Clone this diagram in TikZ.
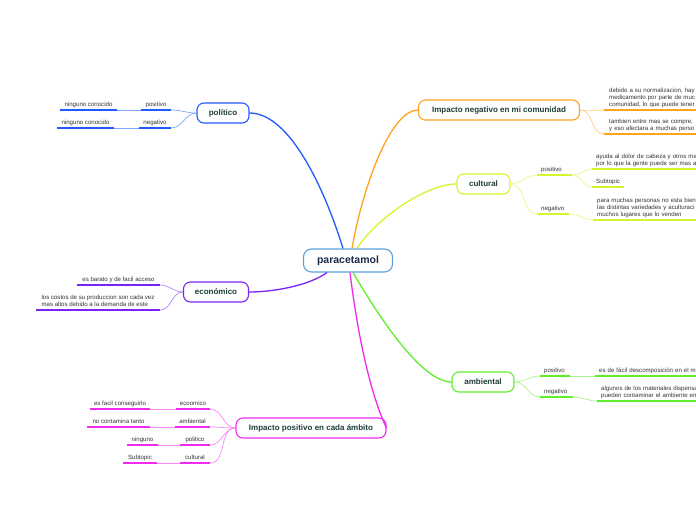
\documentclass[tikz,border=0pt]{standalone}
\usepackage{fontspec}
\setmainfont{Liberation Sans}
\usetikzlibrary{calc}
\definecolor{cblue}{HTML}{1F5BFF}
\definecolor{cpurple}{HTML}{7B22F5}
\definecolor{cmag}{HTML}{F02BF0}
\definecolor{corange}{HTML}{FFA41F}
\definecolor{cyel}{HTML}{D6F52A}
\definecolor{cgreen}{HTML}{5EF02C}
\definecolor{ccentral}{HTML}{5AA0DC}
\definecolor{brtext}{HTML}{1E3D3A}
\definecolor{ctext}{HTML}{1B2A4A}
\definecolor{ltext}{HTML}{333333}
\newcommand\leaffont{\fontsize{6.1pt}{7pt}\selectfont}
\newcommand\branchfont{\fontsize{8pt}{9.6pt}\selectfont\bfseries}
\newcommand\centralfont{\fontsize{10.5pt}{12.6pt}\selectfont\bfseries}
\tikzset{
  central/.style={draw=ccentral, line width=1.1pt, rounded corners=8pt, fill=white, text=ctext, font=\centralfont, minimum width=89pt, minimum height=23pt, inner sep=0pt},
  branch/.style={draw=#1, line width=1.1pt, rounded corners=7pt, fill=white, text=brtext, font=\branchfont, minimum height=20pt, inner sep=0pt},
  mainc/.style={draw=#1, line width=1.3pt},
  subc/.style={draw=#1!55!white, line width=0.7pt},
  uline/.style={draw=#1, line width=1.6pt},
  lf/.style={anchor=south, inner xsep=0pt, inner ysep=3.5pt, text depth=0pt, font=\leaffont, text=ltext,
    append after command={\pgfextra{\let\mylastnode\tikzlastnode}(\mylastnode.south west) edge[uline=#1] (\mylastnode.south east)}},
  rl/.style={lf=#1, anchor=south west, inner xsep=4pt, align=left},
}
\begin{document}
\begin{tikzpicture}[x=1pt,y=-1pt]
\useasboundingbox[fill=white] (0,0) rectangle (696,520);
\begin{scope}
\clip (0,0) rectangle (696,520);
% central and branches
\node[central] (c) at (348,260.5) {paracetamol};
\node[branch=cblue, minimum width=52pt] (pol) at (223,113) {político};
\node[branch=cpurple, minimum width=65pt] (eco) at (216,292) {económico};
\node[branch=cmag, minimum width=150pt] (ip) at (311,428) {Impacto positivo en cada ámbito};
\node[branch=corange, minimum width=161pt] (neg) at (499,110) {Impacto negativo en mi comunidad};
\node[branch=cyel, minimum width=53pt] (cul) at (483.5,184) {cultural};
\node[branch=cgreen, minimum width=62pt] (amb) at (483,382) {ambiental};
% politico leaves
\node[lf=cblue, minimum width=30pt] (pp) at (156,110) {positivo};
\node[lf=cblue, minimum width=57pt] (pp1) at (88.5,110) {ninguno conocido};
\node[lf=cblue, minimum width=32pt] (pn) at (155,128) {negativo};
\node[lf=cblue, minimum width=57pt] (pn1) at (85.5,128) {ninguno conocido};
% economico leaves
\node[lf=cpurple, minimum width=83pt] (e1) at (118.5,285) {es barato y de facil acceso};
\node[lf=cpurple, minimum width=124pt, align=left] (e2) at (98,310) {los costos de su produccion son cada vez\\mas altos debido a la demanda de este};
% impacto positivo leaves
\node[lf=cmag, minimum width=34pt] (i1) at (193,409) {ecoomico};
\node[lf=cmag, minimum width=60pt] (i1b) at (120,409) {es facil conseguirlo};
\node[lf=cmag, minimum width=35pt] (i2) at (192.5,427) {ambiental};
\node[lf=cmag, minimum width=63pt] (i2b) at (118.5,427) {no contamina tanto};
\node[lf=cmag, minimum width=30pt] (i3) at (195,445) {politico};
\node[lf=cmag, minimum width=31pt] (i3b) at (142.5,445) {ninguno};
\node[lf=cmag, minimum width=30pt] (i4) at (195,463) {cultural};
\node[lf=cmag, minimum width=34pt] (i4b) at (140,463) {Subtopic};
% impacto negativo leaves
\node[rl=corange, text width=140pt, inner xsep=5pt, text depth=14pt] (n1) at (604,110) {debido a su normalizacion, hay\\medicamento por parte de muc\\comunidad, lo que puede tener};
\node[rl=corange, text width=140pt, inner xsep=5pt, text depth=7pt] (n2) at (604,134) {tambien entre mas se compre,\\y eso afectara a muchas perso};
% cultural leaves
\node[rl=cyel, text width=27pt] (cp) at (537,175) {positivo};
\node[rl=cyel, text width=140pt, text depth=7pt] (cp1) at (592,169) {ayuda al dolor de cabeza y otros ma\\por lo que la gente puede ser mas a};
\node[rl=cyel, text width=24pt] (cp2) at (592,187) {Subtopic};
\node[rl=cyel, text width=24pt] (cn) at (537,214) {negativo};
\node[rl=cyel, text width=140pt, text depth=14pt] (cn1) at (593,220) {para muchas personas no esta bien\\las distintas variedades y aculturaci\\muchos lugares que lo venden};
% ambiental leaves
\node[rl=cgreen, text width=22pt] (ap) at (540,376) {positivo};
\node[rl=cgreen, text width=140pt] (ap1) at (595,376) {es de fácil descomposición en el m};
\node[rl=cgreen, text width=25pt] (an) at (540,397) {negativo};
\node[rl=cgreen, text width=140pt, text depth=7pt] (an1) at (597,401) {algunos de los materiales dispensa\\pueden contaminar el ambiente en};
\end{scope}
% main connectors
\draw[mainc=cblue] ([xshift=-5pt]c.north) .. controls (325,190) and (290,113) .. (pol.east);
\draw[mainc=corange] ([xshift=4pt]c.north) .. controls (362,190) and (390,110) .. (neg.west);
\draw[mainc=cyel] ([xshift=9pt]c.north) .. controls (375,220) and (425,184) .. (cul.west);
\draw[mainc=cpurple] ([xshift=-21pt]c.south) .. controls (310,285) and (275,292) .. (eco.east);
\draw[mainc=cmag] ([xshift=2pt]c.south) .. controls (362,370) and (380,415) .. (ip.east);
\draw[mainc=cgreen] ([xshift=5pt]c.south) .. controls (375,310) and (420,382) .. (amb.west);
% sub connectors
\draw[subc=cblue] (pol.west) to[out=180,in=0] (pp.south east);
\draw[subc=cblue] (pol.west) to[out=180,in=0] (pn.south east);
\draw[subc=cblue] (pp.south west) -- (pp1.south east);
\draw[subc=cblue] (pn.south west) -- (pn1.south east);
\draw[subc=cpurple] (eco.west) to[out=180,in=0] (e1.south east);
\draw[subc=cpurple] (eco.west) to[out=180,in=0] (e2.south east);
\draw[subc=cmag] (ip.west) to[out=180,in=0] (i1.south east);
\draw[subc=cmag] (ip.west) to[out=180,in=0] (i2.south east);
\draw[subc=cmag] (ip.west) to[out=180,in=0] (i3.south east);
\draw[subc=cmag] (ip.west) to[out=180,in=0] (i4.south east);
\draw[subc=cmag] (i1.south west) -- (i1b.south east);
\draw[subc=cmag] (i2.south west) -- (i2b.south east);
\draw[subc=cmag] (i3.south west) -- (i3b.south east);
\draw[subc=cmag] (i4.south west) -- (i4b.south east);
\draw[subc=corange] (neg.east) to[out=0,in=180] (n1.south west);
\draw[subc=corange] (neg.east) to[out=0,in=180] (n2.south west);
\draw[subc=cyel] (cul.east) to[out=0,in=180] (cp.south west);
\draw[subc=cyel] (cul.east) to[out=0,in=180] (cn.south west);
\draw[subc=cyel] (cp.south east) to[out=0,in=180] (cp1.south west);
\draw[subc=cyel] (cp.south east) to[out=0,in=180] (cp2.south west);
\draw[subc=cyel] (cn.south east) to[out=0,in=180] (cn1.south west);
\draw[subc=cgreen] (amb.east) to[out=0,in=180] (ap.south west);
\draw[subc=cgreen] (amb.east) to[out=0,in=180] (an.south west);
\draw[subc=cgreen] (ap.south east) -- (ap1.south west);
\draw[subc=cgreen] (an.south east) to[out=0,in=180] (an1.south west);
\end{tikzpicture}
\end{document}
